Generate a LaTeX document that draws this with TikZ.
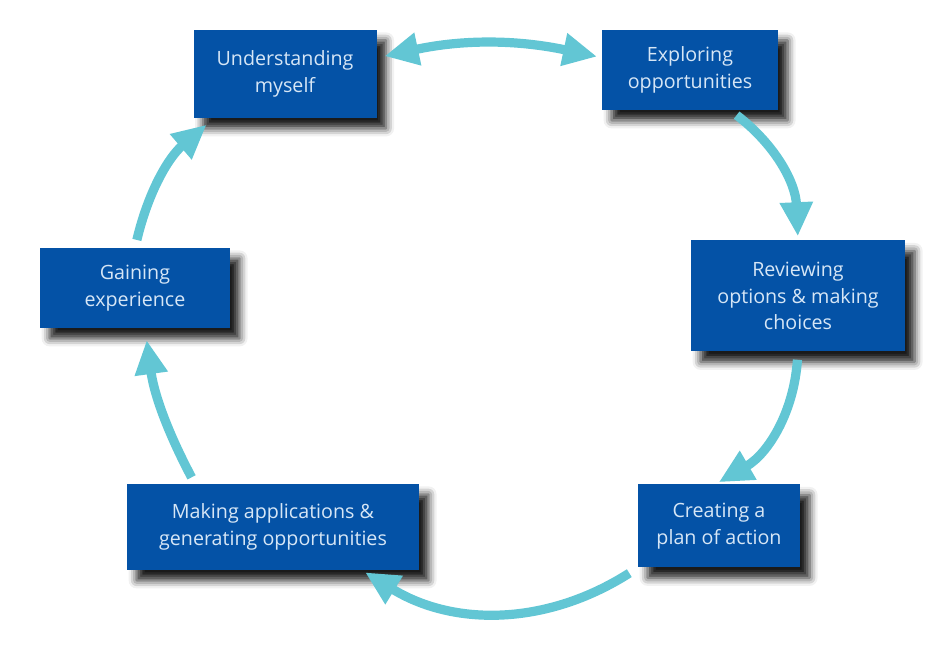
\documentclass[tikz,border=0pt]{standalone}
\usepackage{fontspec}
\setmainfont{Open Sans}
\usetikzlibrary{arrows.meta,positioning,shadows.blur}
\definecolor{boxblue}{RGB}{4,82,166}
\definecolor{arrowcyan}{RGB}{98,198,212}
\definecolor{textpale}{RGB}{214,230,246}

\begin{document}
\begin{tikzpicture}[x=1cm,y=1cm,
                    every node/.style={align=center}]
  \tikzstyle{stage}=[rectangle,fill=boxblue,text=textpale,inner sep=2pt,
                     font=\fontsize{14}{19}\selectfont,
                     blur shadow={shadow xshift=0.24cm,shadow yshift=-0.26cm,
                                  shadow opacity=90,shadow blur radius=0.2cm}]
  \tikzstyle{flow}=[draw=arrowcyan,line width=0.23cm,
                    -{Triangle[width=0.78cm,length=0.85cm]}]
  \useasboundingbox (0,0) rectangle (23.8,16.3);

  \node[stage,minimum width=4.575cm,minimum height=2.2cm] (u) at (7.125,14.45) {Understanding\\myself};
  \node[stage,minimum width=4.4cm,minimum height=2.0cm] (e) at (17.25,14.55) {Exploring\\opportunities};
  \node[stage,minimum width=5.35cm,minimum height=2.775cm] (r) at (19.95,8.9) {Reviewing\\options \& making\\choices};
  \node[stage,minimum width=4.05cm,minimum height=2.075cm] (c) at (17.975,3.15) {Creating a\\plan of action};
  \node[stage,minimum width=7.3cm,minimum height=2.15cm] (m) at (6.825,3.125) {Making applications \&\\generating opportunities};
  \node[stage,minimum width=4.75cm,minimum height=2.0cm] (g) at (3.375,9.1) {Gaining\\experience};

  \path (u.10) edge[flow,{Triangle[width=0.78cm,length=0.85cm]}-{Triangle[width=0.78cm,length=0.85cm]},
                   bend left=12,shorten <=0.2cm,shorten >=0.12cm] (e.172)
        (e.-45) edge[flow,bend left=25,shorten <=0.2cm,shorten >=0.1cm] (r.north)
        (r.south) edge[flow,bend left=28,shorten <=0.2cm,shorten >=0.1cm] (c.95)
        (c.south west) edge[flow,bend left=32,shorten <=0.25cm,shorten >=0.1cm] (m.-26)
        (m.151) edge[flow,bend left=10,shorten <=0.18cm,shorten >=0.3cm] (g.-76)
        (g.north) edge[flow,bend left=18,shorten <=0.2cm,shorten >=0.25cm] (u.212);
\end{tikzpicture}
\end{document}
